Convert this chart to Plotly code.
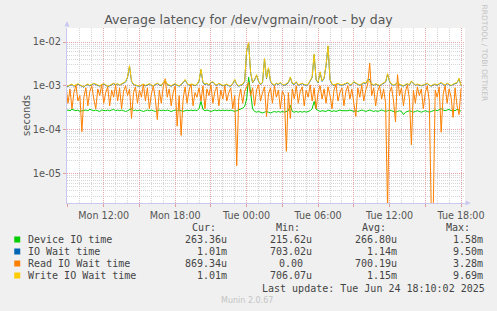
import pandas as pd
import plotly.graph_objects as go

# ---------------- data (milliseconds, 10-minute samples from Mon 08:50) ----------------
start_time = "2025-06-23 08:50"
n_points = 200

device_io_ms = [
    0.27, 0.28, 0.27, 0.29, 0.28, 0.27, 0.28, 0.26, 0.27, 0.28,
    0.28, 0.27, 0.29, 0.28, 0.27, 0.28, 0.27, 0.26, 0.28, 0.27,
    0.27, 0.28, 0.27, 0.28, 0.29, 0.27, 0.28, 0.27, 0.28, 0.27,
    0.26, 0.27, 0.28, 0.30, 0.27, 0.28, 0.27, 0.28, 0.27, 0.26,
    0.27, 0.28, 0.27, 0.28, 0.27, 0.26, 0.27, 0.28, 0.27, 0.28,
    0.27, 0.28, 0.27, 0.26, 0.27, 0.28, 0.27, 0.28, 0.27, 0.26,
    0.27, 0.28, 0.27, 0.28, 0.27, 0.28, 0.27, 0.30, 0.44, 0.29,
    0.27, 0.28, 0.27, 0.26, 0.27, 0.28, 0.27, 0.28, 0.27, 0.28,
    0.27, 0.28, 0.27, 0.28, 0.27, 0.26, 0.27, 0.28, 0.29, 0.31,
    0.34, 0.50, 1.58, 0.60, 0.30, 0.26, 0.25, 0.26, 0.25, 0.24,
    0.25, 0.26, 0.25, 0.24, 0.25, 0.26, 0.25, 0.26, 0.25, 0.26,
    0.25, 0.26, 0.27, 0.36, 0.26, 0.25, 0.26, 0.25, 0.26, 0.25,
    0.26, 0.25, 0.26, 0.27, 0.30, 0.44, 0.29, 0.27, 0.26, 0.27,
    0.27, 0.26, 0.28, 0.27, 0.26, 0.27, 0.26, 0.27, 0.28, 0.27,
    0.27, 0.26, 0.27, 0.28, 0.27, 0.26, 0.27, 0.26, 0.27, 0.28,
    0.27, 0.26, 0.27, 0.28, 0.27, 0.26, 0.27, 0.26, 0.27, 0.28,
    0.27, 0.26, 0.27, 0.28, 0.27, 0.26, 0.25, 0.26, 0.27, 0.26,
    0.22, 0.25, 0.26, 0.27, 0.26, 0.25, 0.26, 0.27, 0.26, 0.25,
    0.26, 0.27, 0.26, 0.25, 0.26, 0.27, 0.28, 0.27, 0.29, 0.30,
    0.28, 0.27, 0.28, 0.29, 0.27, 0.28, 0.27, 0.29, 0.28, 0.263,
]

io_wait_ms = [
    1.00, 0.96, 1.03, 1.07, 0.98, 1.05, 1.09, 1.03, 0.97, 0.93,
    1.03, 1.07, 1.00, 1.05, 1.12, 1.07, 1.03, 0.98, 1.05, 1.09,
    1.03, 0.96, 1.00, 1.07, 1.12, 1.05, 1.09, 1.03, 1.07, 1.15,
    1.22, 1.55, 2.80, 1.26, 1.07, 1.03, 0.98, 0.96, 1.03, 1.07,
    1.00, 1.05, 1.09, 1.03, 0.98, 1.07, 1.12, 1.05, 1.00, 1.17,
    1.32, 1.07, 1.03, 0.98, 1.05, 1.09, 1.03, 0.98, 1.07, 1.17,
    1.36, 1.12, 1.03, 1.07, 1.05, 1.00, 1.07, 1.26, 2.33, 1.17,
    1.07, 1.12, 1.03, 1.17, 1.22, 1.07, 1.03, 1.12, 1.05, 1.00,
    1.03, 1.07, 1.00, 0.98, 1.12, 1.36, 1.07, 0.98, 1.03, 1.07,
    1.26, 6.30, 9.50, 1.95, 1.17, 1.36, 1.75, 1.26, 1.07, 1.17,
    4.10, 1.46, 2.52, 1.26, 1.07, 1.03, 1.12, 1.07, 1.17, 1.05,
    1.03, 1.07, 1.17, 1.55, 1.12, 1.07, 1.22, 1.03, 1.07, 1.12,
    1.05, 1.03, 1.07, 1.26, 1.55, 5.15, 1.36, 1.17, 2.04, 1.26,
    1.46, 2.91, 7.95, 1.36, 1.07, 1.03, 1.07, 1.12, 1.05, 1.03,
    1.07, 1.12, 1.17, 1.03, 1.07, 1.22, 1.12, 1.07, 1.03, 1.07,
    1.17, 1.12, 1.36, 1.40, 1.07, 1.03, 1.09, 1.05, 1.00, 1.07,
    1.12, 1.22, 1.85, 1.26, 1.07, 1.03, 1.07, 1.22, 1.07, 1.03,
    0.98, 1.05, 1.09, 1.03, 1.26, 1.12, 1.03, 1.07, 1.05, 1.00,
    1.03, 1.07, 1.12, 1.03, 0.98, 1.05, 1.07, 1.03, 1.09, 1.17,
    1.07, 1.03, 1.12, 1.05, 1.00, 1.07, 1.12, 1.17, 1.46, 1.01,
]

read_io_wait_ms = [
    0.95, 0.40, 0.85, 0.30, 0.70, 1.05, 0.45, 0.60, 0.09, 0.55,
    0.90, 0.35, 0.75, 1.00, 0.50, 0.30, 0.85, 0.60, 1.10, 0.40,
    0.70, 0.95, 0.35, 0.80, 0.55, 1.05, 0.45, 0.90, 0.30, 0.75,
    1.00, 0.60, 0.85, 0.18, 0.70, 0.95, 0.40, 0.80, 0.55, 1.10,
    0.45, 0.90, 0.30, 0.65, 1.00, 0.50, 0.17, 0.80, 0.40, 0.95,
    1.45, 0.55, 0.85, 0.35, 0.70, 1.00, 0.12, 0.60, 0.074, 0.50,
    0.95, 0.40, 0.80, 1.10, 0.35, 0.70, 0.55, 0.90, 0.45, 1.00,
    0.30, 0.85, 0.60, 1.05, 0.40, 0.75, 0.95, 0.35, 0.80, 0.50,
    1.00, 0.45, 0.70, 0.90, 0.30, 0.60, 0.015, 0.50, 0.85, 0.40,
    0.75, 1.00, 1.20, 0.60, 0.90, 0.35, 0.80, 1.05, 0.45, 0.70,
    0.95, 0.20, 0.65, 0.90, 0.40, 1.00, 0.55, 0.80, 0.30, 0.75,
    0.60, 0.032, 0.70, 0.18, 0.85, 0.50, 1.00, 0.40, 0.75, 0.95,
    0.35, 0.80, 0.55, 1.05, 0.45, 0.90, 0.30, 0.70, 1.00, 0.50,
    0.85, 0.40, 0.95, 0.60, 0.30, 0.80, 1.10, 0.45, 0.70, 0.90,
    0.35, 0.75, 1.00, 0.50, 0.85, 0.40, 0.20, 0.90, 0.55, 1.05,
    0.45, 0.80, 1.10, 3.28, 0.60, 0.90, 0.35, 0.75, 1.00, 0.50,
    0.85, 0.40, 0.0015, 0.70, 0.95, 0.45, 0.15, 1.80, 0.60, 0.90,
    0.35, 0.75, 1.05, 0.50, 0.045, 0.80, 0.40, 0.95, 0.60, 0.85,
    0.30, 0.70, 1.00, 0.45, 0.0015, 0.0015, 0.80, 0.55, 0.95, 0.087,
    0.65, 1.00, 0.40, 0.85, 0.55, 0.19, 0.90, 0.35, 0.22, 0.87,
]

write_io_wait_ms = [
    1.02, 0.98, 1.05, 1.10, 1.00, 1.08, 1.12, 1.05, 1.00, 0.95,
    1.05, 1.10, 1.02, 1.08, 1.15, 1.10, 1.05, 1.00, 1.08, 1.12,
    1.05, 0.98, 1.02, 1.10, 1.15, 1.08, 1.12, 1.05, 1.10, 1.18,
    1.25, 1.60, 2.90, 1.30, 1.10, 1.05, 1.00, 0.98, 1.05, 1.10,
    1.02, 1.08, 1.12, 1.05, 1.00, 1.10, 1.15, 1.08, 1.02, 1.20,
    1.35, 1.10, 1.05, 1.00, 1.08, 1.12, 1.05, 1.00, 1.10, 1.20,
    1.40, 1.15, 1.05, 1.10, 1.08, 1.02, 1.10, 1.30, 2.40, 1.20,
    1.10, 1.15, 1.05, 1.20, 1.25, 1.10, 1.05, 1.15, 1.08, 1.02,
    1.05, 1.10, 1.02, 1.00, 1.15, 1.40, 1.10, 1.00, 1.05, 1.10,
    1.30, 6.50, 9.69, 2.00, 1.20, 1.40, 1.80, 1.30, 1.10, 1.20,
    4.20, 1.50, 2.60, 1.30, 1.10, 1.05, 1.15, 1.10, 1.20, 1.08,
    1.05, 1.10, 1.20, 1.60, 1.15, 1.10, 1.25, 1.05, 1.10, 1.15,
    1.08, 1.05, 1.10, 1.30, 1.60, 5.30, 1.40, 1.20, 2.10, 1.30,
    1.50, 3.00, 8.20, 1.40, 1.10, 1.05, 1.10, 1.15, 1.08, 1.05,
    1.10, 1.15, 1.20, 1.05, 1.10, 1.25, 1.15, 1.10, 1.05, 1.10,
    1.20, 1.15, 1.40, 1.20, 1.10, 1.05, 1.12, 1.08, 1.02, 1.10,
    1.15, 1.25, 1.90, 1.30, 1.10, 1.05, 1.10, 1.20, 1.10, 1.05,
    1.00, 1.08, 1.12, 1.05, 1.30, 1.15, 1.05, 1.10, 1.08, 1.02,
    1.05, 1.10, 1.15, 1.05, 1.00, 1.08, 1.10, 1.05, 1.12, 1.20,
    1.10, 1.05, 1.15, 1.08, 1.02, 1.10, 1.15, 1.20, 1.50, 1.01,
]

series_names = ["Device IO time", "IO Wait time", "Read IO Wait time", "Write IO Wait time"]
series_colors = ["#00CC00", "#0066B3", "#FF8000", "#FFCC00"]
cur_values = ["263.36u", "1.01m", "869.34u", "1.01m"]
min_values = ["215.62u", "703.02u", "0.00", "706.07u"]
avg_values = ["266.80u", "1.14m", "700.19u", "1.15m"]
max_values = ["1.58m", "9.50m", "3.28m", "9.69m"]

major_tick_times = ["2025-06-23 09:00", "2025-06-23 12:00", "2025-06-23 15:00", "2025-06-23 18:00",
                    "2025-06-23 21:00", "2025-06-24 00:00", "2025-06-24 03:00", "2025-06-24 06:00",
                    "2025-06-24 09:00", "2025-06-24 12:00", "2025-06-24 15:00", "2025-06-24 18:00"]
major_tick_labels = ["", "Mon 12:00", "", "Mon 18:00", "", "Tue 00:00", "", "Tue 06:00",
                     "", "Tue 12:00", "", "Tue 18:00"]
y_tick_vals = [1e-5, 1e-4, 1e-3, 1e-2]
y_tick_labels = ["1e-05", "1e-04", "1e-03", "1e-02"]

# ---------------- figure ----------------
times = pd.date_range(start_time, periods=n_points, freq="10min")
all_series = [device_io_ms, io_wait_ms, read_io_wait_ms, write_io_wait_ms]

fig = go.Figure()
for name, color, vals in zip(series_names, series_colors, all_series):
    fig.add_trace(go.Scatter(
        x=times, y=[v / 1000.0 for v in vals], mode="lines", name=name,
        line=dict(color=color, width=1), hoverinfo="skip"))

W, H = 497, 311
L, R, T, B = 67, 467, 28, 203


def px(x):
    return (x - L) / (R - L)


def py(y):
    return (B - y) / (B - T)


minor_x = [t for t in pd.date_range("2025-06-23 09:00", "2025-06-24 18:00", freq="1h")]
minor_y = [m * 10.0 ** e for e in range(-6, -1) for m in range(2, 10)]

grid_major = "#E4A8A8"
grid_minor = "#D6D6D6"

fig.update_layout(
    width=W, height=H,
    margin=dict(l=L, r=W - R, t=T, b=H - B, pad=0),
    paper_bgcolor="#F0F0F0", plot_bgcolor="#FFFFFF",
    showlegend=False,
    font=dict(family="DejaVu Sans", size=10, color="#555555"),
    title=dict(text="Average latency for /dev/vgmain/root - by day",
               x=0.5, xref="container", xanchor="center",
               y=1 - 19.5 / H, yref="container", yanchor="middle",
               font=dict(family="DejaVu Sans", size=12.5, color="#555555")),
    xaxis=dict(
        type="date", range=["2025-06-23 08:55", "2025-06-24 18:20"],
        tickmode="array", tickvals=major_tick_times, ticktext=major_tick_labels,
        showgrid=True, gridcolor=grid_major, gridwidth=1, griddash="1px,1px",
        ticks="outside", ticklen=3, tickcolor="#E0A0A0", tickwidth=1,
        tickfont=dict(family="DejaVu Sans", size=9.6, color="#555555"),
        showline=True, linecolor="#C8C8F0", linewidth=1,
        zeroline=False,
        minor=dict(tickmode="array", tickvals=minor_x, showgrid=True,
                   gridcolor=grid_minor, gridwidth=1, griddash="1px,1px", ticks=""),
    ),
    yaxis=dict(
        type="log", range=[-5.675, -1.68],
        tickmode="array", tickvals=y_tick_vals, ticktext=y_tick_labels,
        showgrid=True, gridcolor=grid_major, gridwidth=1, griddash="1px,1px",
        ticks="outside", ticklen=3, tickcolor="#E0A0A0",
        tickfont=dict(family="DejaVu Sans", size=9.8, color="#555555"),
        showline=True, linecolor="#C8C8F0", linewidth=1,
        zeroline=False,
        minor=dict(tickmode="array", tickvals=minor_y, showgrid=True,
                   gridcolor=grid_minor, gridwidth=1, griddash="1px,1px", ticks=""),
        title=dict(text="seconds", font=dict(family="DejaVu Sans", size=10, color="#555555"),
                   standoff=0),
    ),
)

shapes = [
    # axis arrows
    dict(type="path", xref="paper", yref="paper", line=dict(width=0), fillcolor="#C8C8F0",
         path=f"M {px(64.5)} {py(26.5)} L {px(69.5)} {py(26.5)} L {px(67)} {py(21)} Z"),
    dict(type="path", xref="paper", yref="paper", line=dict(width=0), fillcolor="#C8C8F0",
         path=f"M {px(467.5)} {py(200.5)} L {px(467.5)} {py(205.5)} L {px(473)} {py(203)} Z"),
]
row_y = [239.5, 251.5, 263.5, 275.5]
for color, ry in zip(series_colors, row_y):
    shapes.append(dict(type="rect", xref="paper", yref="paper", line=dict(width=0),
                       fillcolor=color, x0=px(14), x1=px(20), y0=py(ry + 3), y1=py(ry - 3)))
fig.update_layout(shapes=shapes)

mono = dict(family="DejaVu Sans Mono", size=10, color="#444444")
ann = []


def add_text(text, x, y, font, xanchor="left", angle=0):
    ann.append(dict(text=text, x=px(x), y=py(y), xref="paper", yref="paper",
                    xanchor=xanchor, yanchor="middle", showarrow=False,
                    font=font, textangle=angle))


# legend header
for hdr, hx in zip(["Cur:", "Min:", "Avg:", "Max:"], [190.2, 275.5, 361.2, 446.2]):
    add_text(hdr, hx, 227.5, mono)

col_x = [183.5, 269.5, 354.5, 440.5]
for i, name in enumerate(series_names):
    add_text(name, 25.5, row_y[i], mono)
    for cx, vals in zip(col_x, [cur_values, min_values, avg_values, max_values]):
        v = vals[i]
        if v == "0.00":
            add_text(v, 277.8, row_y[i], mono)
        else:
            add_text(v.rjust(7, "\u00a0"), cx, row_y[i], mono)

add_text("Last update: Tue Jun 24 18:10:02 2025", 261.2, 288.5, mono)
add_text("Munin 2.0.67", 248, 300, dict(family="DejaVu Sans", size=8, color="#C4C4C4"), xanchor="center")
add_text("RRDTOOL / TOBI OETIKER", 487, 53.5, dict(family="DejaVu Sans", size=7.5, color="#C4C4C4"),
         xanchor="center", angle=90)
fig.update_layout(annotations=ann)

fig.write_html("out.html")
